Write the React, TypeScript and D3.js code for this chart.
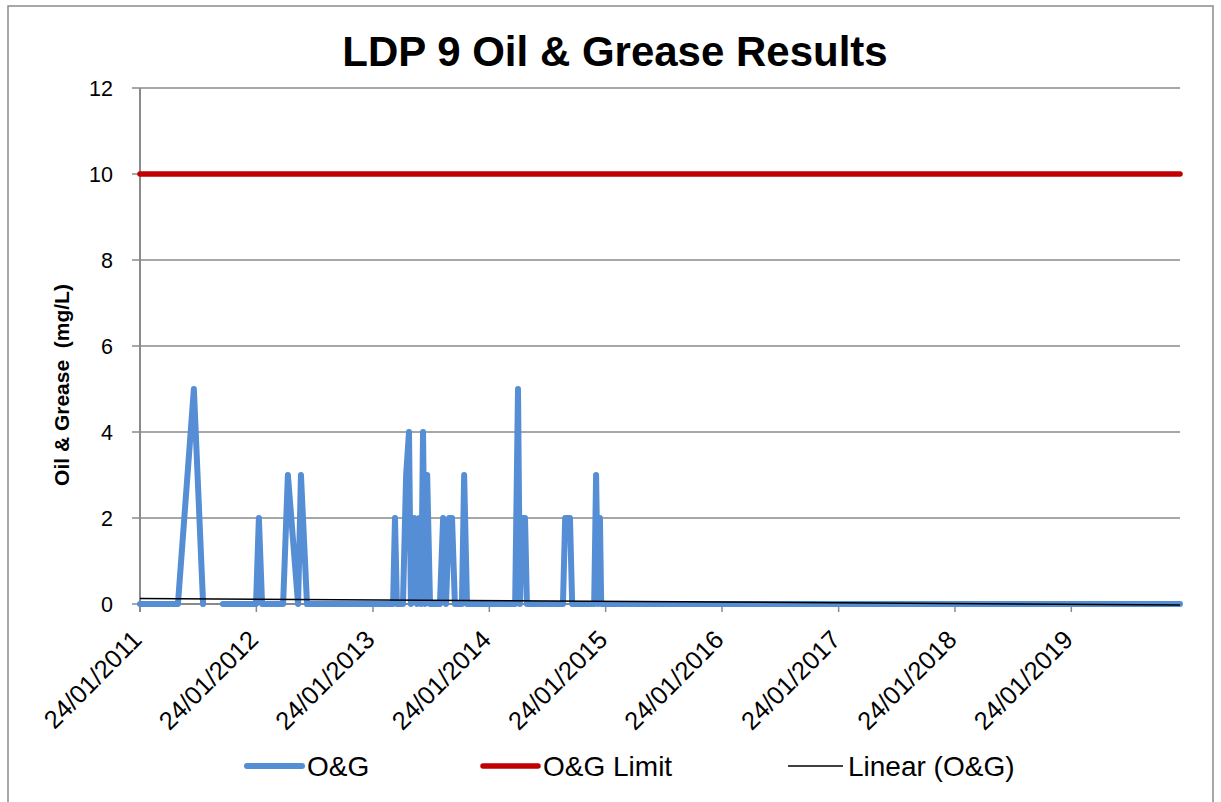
import React from "react";
import * as d3 from "d3";

const chartTitle = "LDP 9 Oil & Grease Results";
const yAxisTitle = "Oil & Grease  (mg/L)";
const yTicks = [0, 2, 4, 6, 8, 10, 12];
const xTickDates = [
  "2011-01-24", "2012-01-24", "2013-01-24", "2014-01-24", "2015-01-24",
  "2016-01-24", "2017-01-24", "2018-01-24", "2019-01-24",
];
const xDomain = ["2011-01-24", "2019-12-31"];

// O&G sample dates and results (null = no sample / gap in the line)
const ogDates = [
  "2011-01-24", "2011-03-28", "2011-05-23", "2011-07-12", "2011-08-10", "2011-09-10",
  "2011-10-11", "2011-12-04", "2012-01-23", "2012-02-01", "2012-02-11", "2012-04-17",
  "2012-05-02", "2012-06-03", "2012-06-12", "2012-07-01", "2012-09-11", "2012-12-14",
  "2013-03-28", "2013-04-03", "2013-04-09", "2013-04-28", "2013-05-08", "2013-05-17",
  "2013-05-23", "2013-06-02", "2013-06-11", "2013-06-18", "2013-06-24", "2013-06-30",
  "2013-07-06", "2013-07-13", "2013-07-22", "2013-08-22", "2013-09-01", "2013-09-10",
  "2013-09-20", "2013-09-29", "2013-10-08", "2013-10-30", "2013-11-06", "2013-11-15",
  "2014-01-26", "2014-04-15", "2014-04-24", "2014-04-30", "2014-05-07", "2014-05-16",
  "2014-05-22", "2014-07-18", "2014-09-12", "2014-09-19", "2014-10-04", "2014-10-11",
  "2014-12-19", "2014-12-25", "2014-12-31", "2015-01-06", "2015-01-10", "2015-06-15",
  "2016-01-20", "2016-08-10", "2017-03-15", "2017-10-20", "2018-05-15", "2018-12-10",
  "2019-06-20", "2019-12-31",
];
const ogValues: (number | null)[] = [
  0, 0, 0, 5, 0, null,
  0, 0, 0, 2, 0, 0,
  3, 0, 3, 0, 0, 0,
  0, 2, 0, 0, 3, 4,
  0, 2, 0, 2, 0, 4,
  0, 3, 0, 0, 2, 0,
  2, 2, 0, 0, 3, 0,
  0, 0, 5, 0, 2, 2,
  0, 0, 0, 2, 2, 0,
  0, 3, 0, 2, 0, 0,
  0, 0, 0, 0, 0, 0,
  0, 0,
];
const limitValue = 10;
// Linear trendline of O&G, values at the start and end of the axis
const trendValues = [0.13, -0.023];

const legendItems = [
  { label: "O&G", color: "#558ED5", width: 6 },
  { label: "O&G Limit", color: "#C00000", width: 5.5 },
  { label: "Linear (O&G)", color: "#000000", width: 1.5 },
];

const W = 1221;
const H = 802;
const M = { left: 140, right: 1180, top: 88, bottom: 604 };

export default function App() {
  const parse = d3.timeParse("%Y-%m-%d");
  const fmt = d3.timeFormat("%d/%m/%Y");
  const x = d3
    .scaleTime()
    .domain(xDomain.map((d) => parse(d) as Date))
    .range([M.left, M.right]);
  const y = d3.scaleLinear().domain([0, 12]).range([M.bottom, M.top]);

  const data = ogDates.map((d, i) => ({ date: parse(d) as Date, v: ogValues[i] }));
  const line = d3
    .line<{ date: Date; v: number | null }>()
    .defined((d) => d.v !== null)
    .x((d) => x(d.date))
    .y((d) => y(d.v as number));

  const domainDates = xDomain.map((d) => parse(d) as Date);
  const trendPts = domainDates.map((d, i) => ({ date: d, v: trendValues[i] }));
  const limitPts = domainDates.map((d) => ({ date: d, v: limitValue }));

  const font = "'Liberation Sans', Arial, sans-serif";
  const grid = "#8A8A8A";

  const legendX = [247, 483, 788];

  return (
    <svg
      width={W}
      height={H}
      style={{ position: "absolute", left: 0, top: 0, background: "#fff" }}
      fontFamily={font}
    >
      <rect x={0} y={0} width={W} height={H} fill="#fff" />
      <rect x={8} y={6} width={1205} height={800} fill="none" stroke="#8C8C8C" strokeWidth={1.5} />
      <text x={615} y={66} textAnchor="middle" fontSize={42} fontWeight="bold" fill="#000">
        {chartTitle}
      </text>

      {/* gridlines */}
      {yTicks.map((t) => (
        <g key={t}>
          {t > 0 && (
            <line x1={M.left} x2={M.right} y1={y(t)} y2={y(t)} stroke={grid} strokeWidth={1.5} />
          )}
          <line x1={M.left - 8} x2={M.left} y1={y(t)} y2={y(t)} stroke={grid} strokeWidth={1.5} />
          <text x={113} y={y(t)} dy="0.35em" textAnchor="end" fontSize={21.5} fill="#000">
            {t}
          </text>
        </g>
      ))}

      {/* axes */}
      <line x1={M.left} x2={M.left} y1={M.top} y2={M.bottom + 8} stroke={grid} strokeWidth={2} />
      <line x1={M.left} x2={M.right} y1={M.bottom} y2={M.bottom} stroke={grid} strokeWidth={2} />
      {xTickDates.map((s) => {
        const d = parse(s) as Date;
        const xp = x(d);
        return (
          <g key={s}>
            <line x1={xp} x2={xp} y1={M.bottom} y2={M.bottom + 8} stroke={grid} strokeWidth={1.5} />
            <text
              transform={`translate(${xp - 3},${M.bottom + 31}) rotate(-45)`}
              textAnchor="end"
              dy="0.35em"
              fontSize={25.5}
              fill="#000"
            >
              {fmt(d)}
            </text>
          </g>
        );
      })}

      <text
        transform={`translate(69,385) rotate(-90)`}
        textAnchor="middle"
        fontSize={21}
        fontWeight="bold"
        fill="#000"
        style={{ whiteSpace: "pre" }}
      >
        {yAxisTitle}
      </text>

      {/* series */}
      <path
        d={line(limitPts) || ""}
        fill="none"
        stroke="#C00000"
        strokeWidth={5.5}
        strokeLinecap="round"
      />
      <path
        d={line(data) || ""}
        fill="none"
        stroke="#558ED5"
        strokeWidth={6}
        strokeLinecap="round"
        strokeLinejoin="round"
      />
      <path d={line(trendPts) || ""} fill="none" stroke="#000" strokeWidth={1.5} />

      {/* legend */}
      {legendItems.map((it, i) => (
        <g key={it.label}>
          <line
            x1={legendX[i]}
            x2={legendX[i] + 55}
            y1={766}
            y2={766}
            stroke={it.color}
            strokeWidth={it.width}
            strokeLinecap={it.width > 2 ? "round" : "butt"}
          />
          <text x={legendX[i] + 60} y={776} fontSize={28} fill="#000">
            {it.label}
          </text>
        </g>
      ))}
    </svg>
  );
}
